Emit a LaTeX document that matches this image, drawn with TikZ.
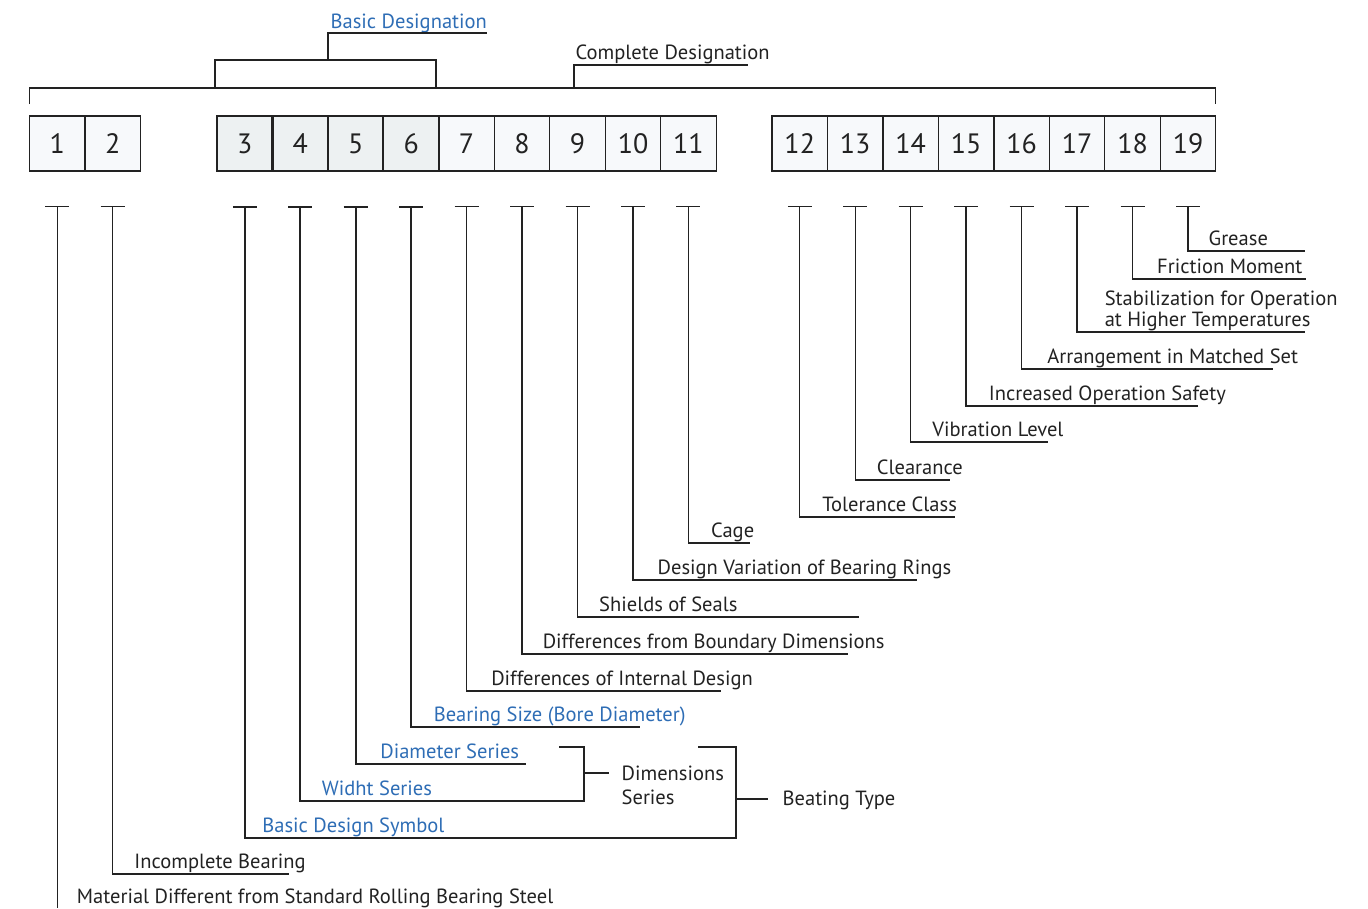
\documentclass[tikz,border=0pt]{standalone}
\usepackage{fontspec}
\setmainfont{PT Sans}
\usetikzlibrary{arrows.meta, positioning, calc}
\definecolor{ink}{HTML}{222222}
\definecolor{desblue}{HTML}{2E6DB5}
\definecolor{boxfill}{HTML}{F7F9FB}
\definecolor{basefill}{HTML}{EDF1F2}

\begin{document}
\begin{tikzpicture}[x=0.75pt, y=-0.75pt, node distance=0pt, color=ink, line width=1pt,
  every node/.style={font=\fontsize{15.4}{15.8}\selectfont},
  digit/.style={draw, fill=boxfill, minimum width=41.6pt, minimum height=41.25pt, inner sep=0pt, outer sep=0pt, font=\fontsize{21}{24}\selectfont},
  basedigit/.style={digit, fill=basefill, line width=1.6pt},
  lbl/.style={anchor=base west, inner sep=0pt},
  blbl/.style={lbl, text=desblue},
  lead/.style={{Bar[width=18pt]}-, line join=miter},
  boldlead/.style={lead, line width=1.6pt}]

\useasboundingbox (0,0) rectangle (1368,908);

\node (b1) [digit] at (57.25,143.5) {1};
\node (b2) [digit, right=of b1] {2};
\node (b3) [basedigit] at (244.75,143.5) {3};
\node (b4) [basedigit, right=of b3] {4};
\node (b5) [basedigit, right=of b4] {5};
\node (b6) [basedigit, right=of b5] {6};
\node (b7) [digit, right=of b6] {7};
\node (b8) [digit, right=of b7] {8};
\node (b9) [digit, right=of b8] {9};
\node (b10) [digit, right=of b9] {10};
\node (b11) [digit, right=of b10] {11};
\node (b12) [digit] at (799.75,143.5) {12};
\node (b13) [digit, right=of b12] {13};
\node (b14) [digit, right=of b13] {14};
\node (b15) [digit, right=of b14] {15};
\node (b16) [digit, right=of b15] {16};
\node (b17) [digit, right=of b16] {17};
\node (b18) [digit, right=of b17] {18};
\node (b19) [digit, right=of b18] {19};

\node (bdes) [blbl] at (330,28) {Basic Designation};
\node (cdes) [lbl] at (575,59) {Complete Designation};
\draw ($(b1.north west)+(0,-12)$) |- ($(b19.north east)+(0,-28)$) -- ++(0,16);
\draw (215,88) |- (436,60) -- (436,88);
\draw (328,60) |- (487,33);
\draw (574,88) |- (748,65);

\coordinate (tk) at (0,206);
\coordinate (c19) at (b19 |- 0,251);
\coordinate (c18) at (b18 |- 0,279);
\coordinate (c17) at (b17 |- 0,332);
\coordinate (c16) at (b16 |- 0,369);
\coordinate (c15) at (b15 |- 0,406);
\coordinate (c14) at (b14 |- 0,442);
\coordinate (c13) at (b13 |- 0,480);
\coordinate (c12) at (b12 |- 0,517);
\coordinate (c11) at (b11 |- 0,543);
\coordinate (c10) at (b10 |- 0,580);
\coordinate (c9) at (b9 |- 0,617);
\coordinate (c8) at (b8 |- 0,654);
\coordinate (c7) at (b7 |- 0,691);
\coordinate (c6) at (b6 |- 0,727);
\coordinate (c5) at (b5 |- 0,764);
\coordinate (c4) at (b4 |- 0,801);
\coordinate (c3) at (b3 |- 0,838);
\coordinate (c2) at (b2 |- 0,874);
\coordinate (c1) at (b1 |- 0,908);

\node (l19) [lbl] at ($(c19)+(20,-6)$) {Grease};
\node (l18) [lbl] at ($(c18)+(24,-6)$) {Friction Moment};
\node (l17) [anchor=west, inner sep=0pt, align=left, font=\fontsize{15.4}{15.8}\selectfont] at ($(c17)+(27,-21.5)$) {Stabilization for Operation\\at Higher Temperatures};
\node (l16) [lbl] at ($(c16)+(25,-6)$) {Arrangement in Matched Set};
\node (l15) [lbl] at ($(c15)+(22,-6)$) {Increased Operation Safety};
\node (l14) [lbl] at ($(c14)+(21,-6)$) {Vibration Level};
\node (l13) [lbl] at ($(c13)+(21,-6)$) {Clearance};
\node (l12) [lbl] at ($(c12)+(22,-6)$) {Tolerance Class};
\node (l11) [lbl] at ($(c11)+(22,-6)$) {Cage};
\node (l10) [lbl] at ($(c10)+(24,-6)$) {Design Variation of Bearing Rings};
\node (l9) [lbl] at ($(c9)+(21,-6)$) {Shields of Seals};
\node (l8) [lbl] at ($(c8)+(20,-6)$) {Differences from Boundary Dimensions};
\node (l7) [lbl] at ($(c7)+(24,-6)$) {Differences of Internal Design};
\node (l6) [blbl] at ($(c6)+(22,-6)$) {Bearing Size (Bore Diameter)};
\node (l5) [blbl] at ($(c5)+(24,-6)$) {Diameter Series};
\node (l4) [blbl] at ($(c4)+(21,-6)$) {Widht Series};
\node (l3) [blbl] at ($(c3)+(17,-6)$) {Basic Design Symbol};
\node (l2) [lbl] at ($(c2)+(21,-6)$) {Incomplete Bearing};
\node (l1) [lbl] at ($(c1)+(19,-5)$) {Material Different from Standard Rolling Bearing Steel};

\draw[lead] (b19 |- tk) -- (c19) -- ++(117,0);
\draw[lead] (b18 |- tk) -- (c18) -- ++(173,0);
\draw[lead] (b17 |- tk) -- (c17) -- ++(228,0);
\draw[lead] (b16 |- tk) -- (c16) -- ++(251,0);
\draw[lead] (b15 |- tk) -- (c15) -- ++(232,0);
\draw[lead] (b14 |- tk) -- (c14) -- ++(137,0);
\draw[lead] (b13 |- tk) -- (c13) -- ++(95,0);
\draw[lead] (b12 |- tk) -- (c12) -- ++(155,0);
\draw[lead] (b11 |- tk) -- (c11) -- ++(62,0);
\draw[lead] (b10 |- tk) -- (c10) -- ++(284,0);
\draw[lead] (b9 |- tk) -- (c9) -- ++(281,0);
\draw[lead] (b8 |- tk) -- (c8) -- ++(326,0);
\draw[lead] (b7 |- tk) -- (c7) -- ++(254,0);
\draw[boldlead] (b6 |- tk) -- (c6) -- ++(229,0);
\draw[boldlead] (b5 |- tk) -- (c5) -- ++(170,0);
\draw[lead] (b2 |- tk) -- (c2) -- ++(176,0);
\draw[lead] (b1 |- tk) -- (c1);

\coordinate (dimtop) at (584,747);
\coordinate (typetop) at (736,747);
\node (dims) [anchor=west, inner sep=0pt, align=left, font=\fontsize{15.4}{18}\selectfont] at (621,785) {Dimensions\\Series};
\node (btype) [lbl] at (782,805) {Beating Type};
\draw[boldlead] (b4 |- tk) -- (c4) -- (c4 -| dimtop) -- (dimtop) -- ++(-25,0);
\draw[boldlead] (b3 |- tk) -- (c3) -- (c3 -| typetop) -- (typetop) -- ++(-38,0);
\draw[line width=1.6pt] (dimtop |- 0,773) -- ++(25,0);
\draw[line width=1.6pt] (typetop |- 0,799) -- ++(32,0);

\end{tikzpicture}
\end{document}
